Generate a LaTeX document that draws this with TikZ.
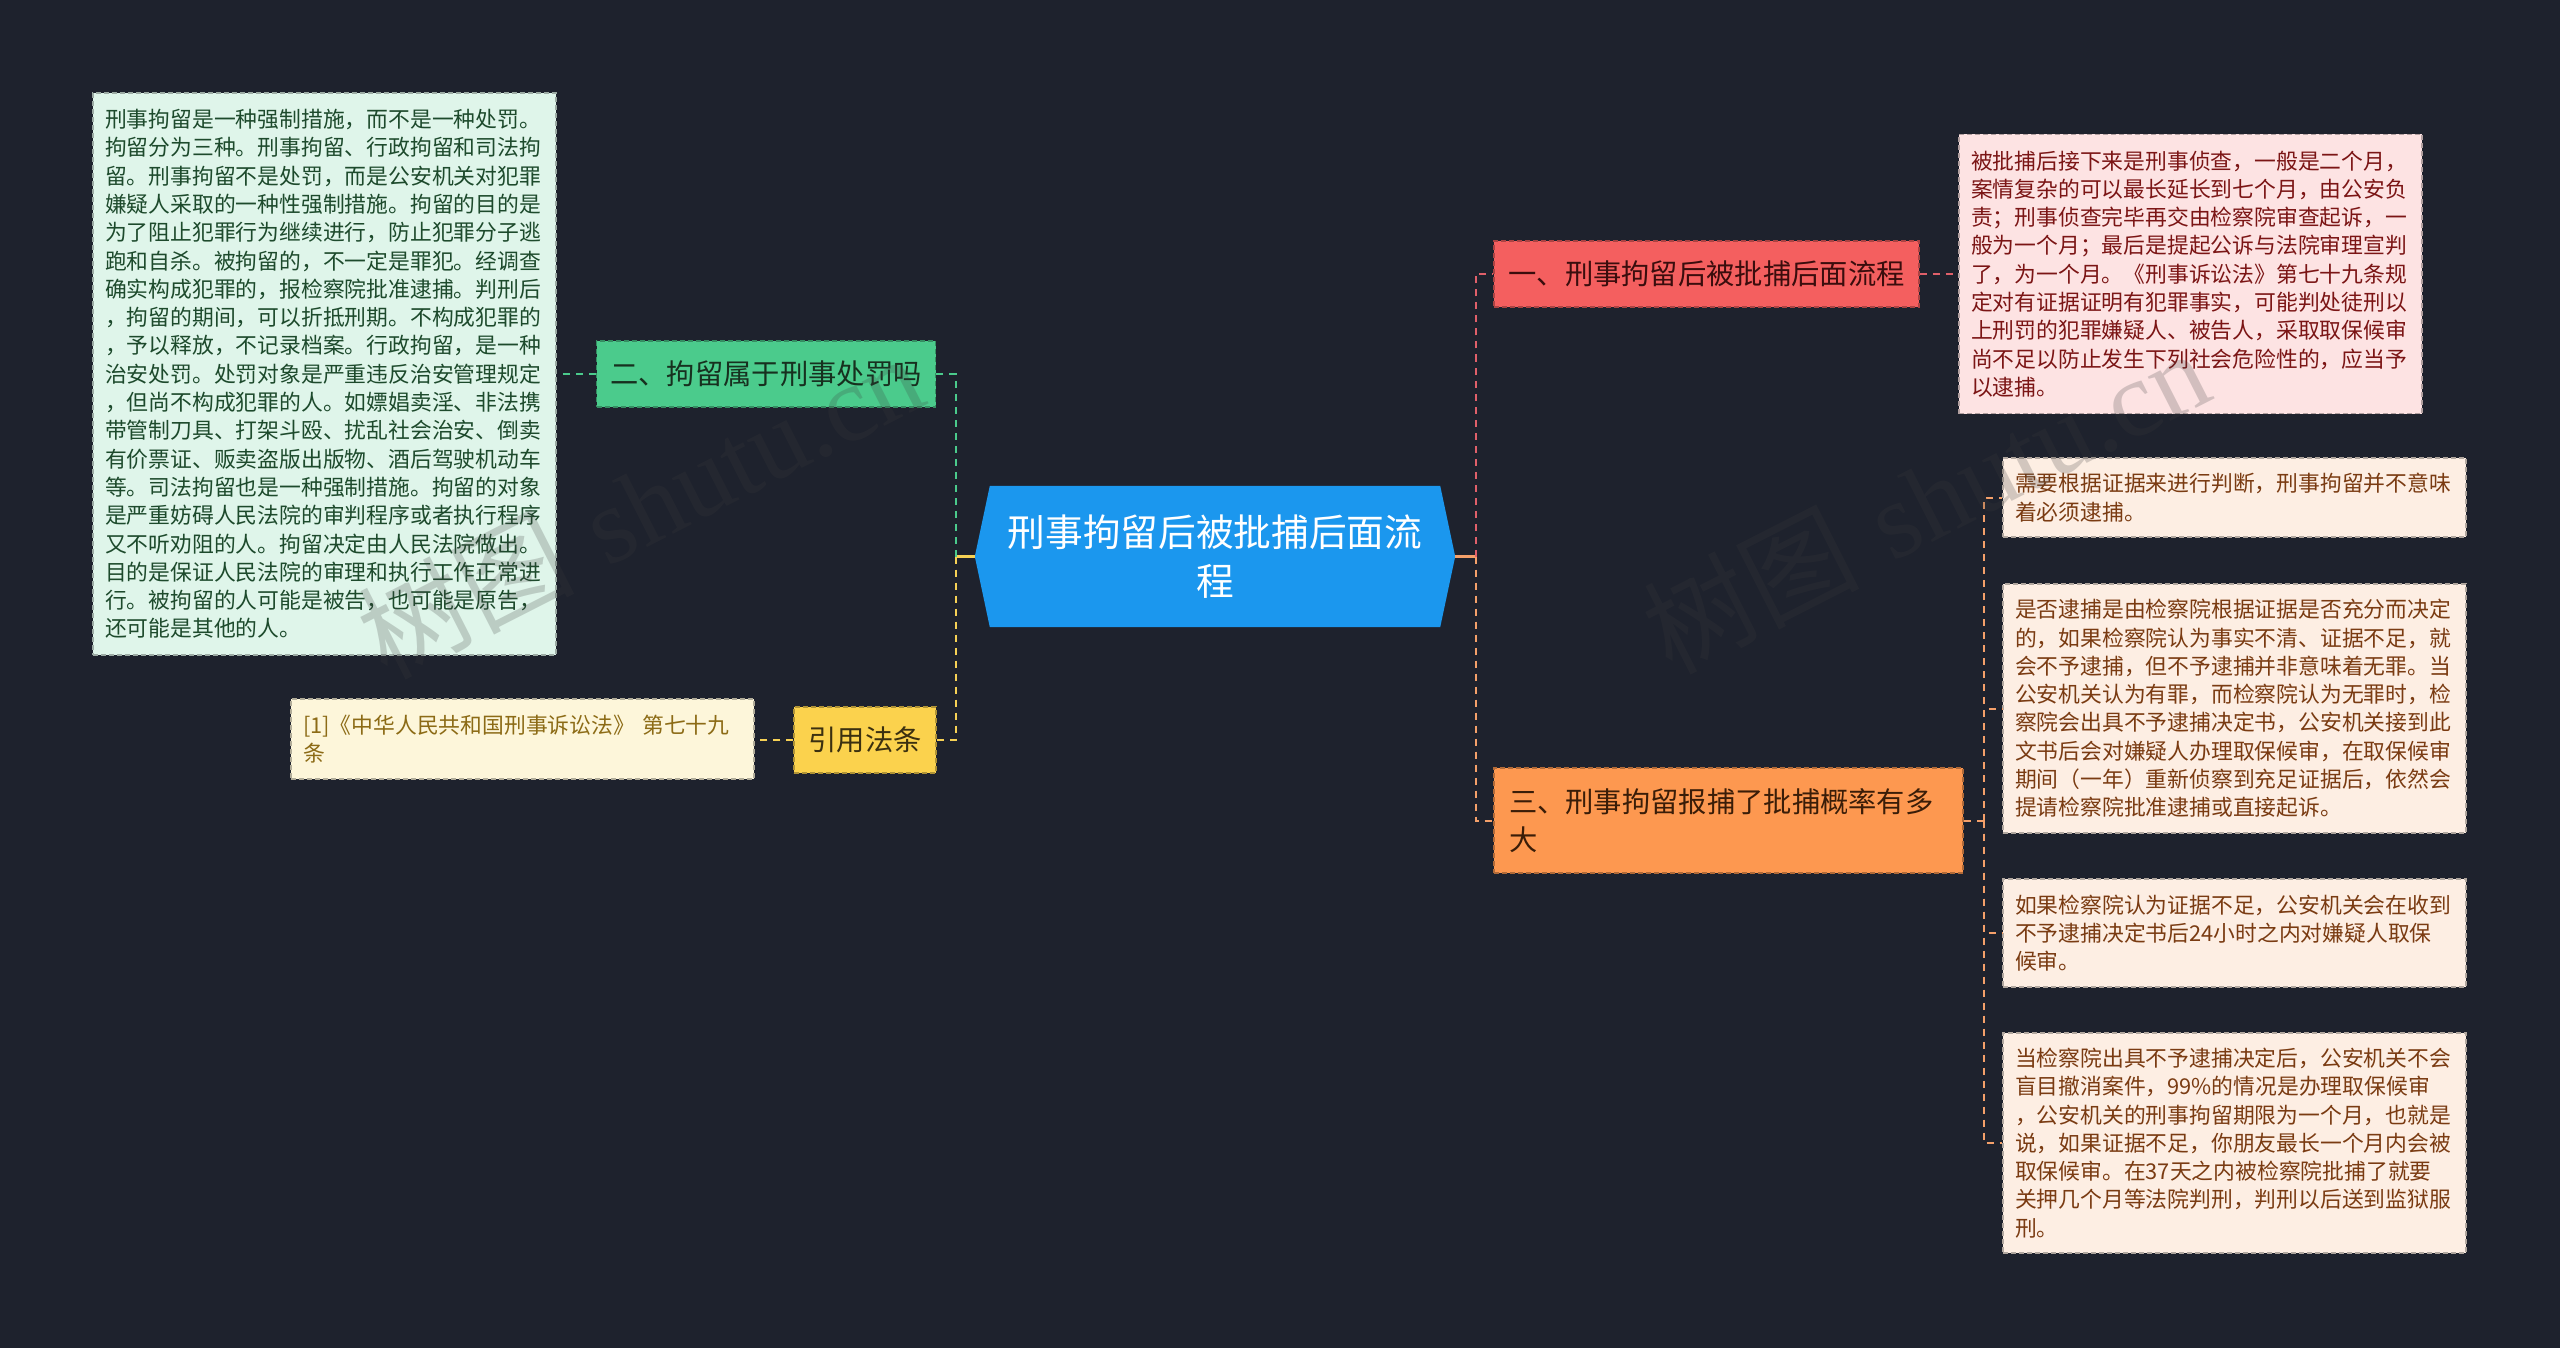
\documentclass[tikz,border=0pt]{standalone}
\usepackage{fontspec}
\newfontfamily\cjk{Noto Sans CJK SC}
\newfontfamily\wmserif{Liberation Serif}
\usetikzlibrary{backgrounds}
\definecolor{bgc}{HTML}{1E222D}
\definecolor{rootblue}{HTML}{1B97EE}
\definecolor{greenn}{HTML}{4BCB8C}
\definecolor{greent}{HTML}{17301F}
\definecolor{yellown}{HTML}{FBD24D}
\definecolor{yellowt}{HTML}{3B3010}
\definecolor{redn}{HTML}{F45F5F}
\definecolor{redt}{HTML}{3A0D0D}
\definecolor{orangen}{HTML}{FD9850}
\definecolor{oranget}{HTML}{3A1D08}
\definecolor{mintf}{HTML}{DFF5EA}
\definecolor{mintt}{HTML}{1D4A2C}
\definecolor{citef}{HTML}{FDF6DA}
\definecolor{citet}{HTML}{8C6B16}
\definecolor{pinkf}{HTML}{FDE3E3}
\definecolor{pinkt}{HTML}{7B1515}
\definecolor{peachf}{HTML}{FDEEE3}
\definecolor{peacht}{HTML}{7A3B12}
\definecolor{redl}{HTML}{E0606A}
\definecolor{orangel}{HTML}{F4A06A}
\definecolor{greenl}{HTML}{4BCB8C}
\definecolor{yellowl}{HTML}{F6D155}
\definecolor{wmc}{HTML}{3C3C3C}
\tikzset{
  small/.style={font=\cjk\fontsize{21.8}{28.3}\selectfont},
  textbox/.style={small, draw, dashed, dash pattern=on 5pt off 3pt, line width=1.5pt,
    inner xsep=12pt, inner ysep=0pt, text width=439pt, align=left, anchor=center},
  branch/.style={font=\cjk\fontsize{28.3}{38}\selectfont, draw, dashed,
    dash pattern=on 5pt off 3pt, line width=1.5pt, inner sep=0pt, anchor=center},
  dashc/.style={line width=2pt, dash pattern=on 7pt off 6pt},
  solidc/.style={line width=2.5pt},
  wm/.style={text=wmc, opacity=0.22, font=\fontsize{108}{108}\selectfont, inner sep=0pt}
}
\begin{document}
\begin{tikzpicture}[x=1pt,y=-1pt]
\useasboundingbox (0,0) rectangle (2560,1348);

% central topic
\node[font=\cjk\fontsize{37.7}{49}\selectfont, text=white, align=center,
  minimum width=480pt, minimum height=141pt, inner sep=0pt] (root) at (1215,556.5)
  {刑事拘留后被批捕后面流\\程};
\begin{scope}[on background layer]
\fill[bgc] (0,0) rectangle (2560,1348);
\fill[rootblue] (root.west) -- ([xshift=15pt]root.north west) -- ([xshift=-15pt]root.north east)
  -- (root.east) -- ([xshift=-15pt]root.south east) -- ([xshift=15pt]root.south west) -- cycle;
\end{scope}

% left branches
\node[branch, fill=greenn, draw=greenn!70!black, text=greent, minimum width=339pt, minimum height=66pt]
  (n2) at (766,374) {二、拘留属于刑事处罚吗};
\node[branch, fill=yellown, draw=yellown!70!black, text=yellowt, minimum width=142pt, minimum height=66pt]
  (ny) at (865,740) {引用法条};
\node[textbox, fill=mintf, draw=mintf!70!black, text=mintt, minimum height=562pt]
  (lt) at (324.5,374) {刑事拘留是一种强制措施，而不是一种处罚。\\
拘留分为三种。刑事拘留、行政拘留和司法拘\\
留。刑事拘留不是处罚，而是公安机关对犯罪\\
嫌疑人采取的一种性强制措施。拘留的目的是\\
为了阻止犯罪行为继续进行，防止犯罪分子逃\\
跑和自杀。被拘留的，不一定是罪犯。经调查\\
确实构成犯罪的，报检察院批准逮捕。判刑后\\
，拘留的期间，可以折抵刑期。不构成犯罪的\\
，予以释放，不记录档案。行政拘留，是一种\\
治安处罚。处罚对象是严重违反治安管理规定\\
，但尚不构成犯罪的人。如嫖娼卖淫、非法携\\
带管制刀具、打架斗殴、扰乱社会治安、倒卖\\
有价票证、贩卖盗版出版物、酒后驾驶机动车\\
等。司法拘留也是一种强制措施。拘留的对象\\
是严重妨碍人民法院的审判程序或者执行程序\\
又不听劝阻的人。拘留决定由人民法院做出。\\
目的是保证人民法院的审理和执行工作正常进\\
行。被拘留的人可能是被告，也可能是原告，\\
还可能是其他的人。};
\node[textbox, fill=citef, draw=citef!70!black, text=citet, minimum height=80pt]
  (cite) at (522.5,739) {[1]《中华人民共和国刑事诉讼法》 第七十九\\条};

% right branches
\node[branch, fill=redn, draw=redn!70!black, text=redt, minimum width=425pt, minimum height=66pt]
  (n1) at (1706.5,274) {一、刑事拘留后被批捕后面流程};
\node[branch, fill=orangen, draw=orangen!70!black, text=oranget, minimum height=105pt,
  inner xsep=15pt, text width=439pt, align=left]
  (n3) at (1728.5,820.5) {三、刑事拘留报捕了批捕概率有多\\大};
\node[textbox, fill=pinkf, draw=pinkf!70!black, text=pinkt, minimum height=279pt]
  (t1) at (2190.5,274) {被批捕后接下来是刑事侦查，一般是二个月，\\
案情复杂的可以最长延长到七个月，由公安负\\
责；刑事侦查完毕再交由检察院审查起诉，一\\
般为一个月；最后是提起公诉与法院审理宣判\\
了，为一个月。《刑事诉讼法》第七十九条规\\
定对有证据证明有犯罪事实，可能判处徒刑以\\
上刑罚的犯罪嫌疑人、被告人，采取取保候审\\
尚不足以防止发生下列社会危险性的，应当予\\
以逮捕。};
\node[textbox, fill=peachf, draw=peachf!70!black, text=peacht, minimum height=79pt]
  (c1) at (2234.5,497.5) {需要根据证据来进行判断，刑事拘留并不意味\\着必须逮捕。};
\node[textbox, fill=peachf, draw=peachf!70!black, text=peacht, minimum height=249pt]
  (c2) at (2234.5,708.5) {是否逮捕是由检察院根据证据是否充分而决定\\
的，如果检察院认为事实不清、证据不足，就\\
会不予逮捕，但不予逮捕并非意味着无罪。当\\
公安机关认为有罪，而检察院认为无罪时，检\\
察院会出具不予逮捕决定书，公安机关接到此\\
文书后会对嫌疑人办理取保候审，在取保候审\\
期间（一年）重新侦察到充足证据后，依然会\\
提请检察院批准逮捕或直接起诉。};
\node[textbox, fill=peachf, draw=peachf!70!black, text=peacht, minimum height=108pt]
  (c3) at (2234.5,933) {如果检察院认为证据不足，公安机关会在收到\\
不予逮捕决定书后24小时之内对嫌疑人取保\\
候审。};
\node[textbox, fill=peachf, draw=peachf!70!black, text=peacht, minimum height=220pt]
  (c4) at (2234.5,1143) {当检察院出具不予逮捕决定后，公安机关不会\\
盲目撤消案件，99\%的情况是办理取保候审\\
，公安机关的刑事拘留期限为一个月，也就是\\
说，如果证据不足，你朋友最长一个月内会被\\
取保候审。在37天之内被检察院批捕了就要\\
关押几个月等法院判刑，判刑以后送到监狱服\\
刑。};

% connectors
\coordinate (lj) at (955.5,556.5);
\coordinate (rj) at (1475.5,556.5);
\coordinate (oj) at (1984,820.5);
\draw[solidc, yellowl] (root.west) -- (lj);
\draw[dashc, greenl] (lj) |- (n2.east);
\draw[dashc, yellowl] (lj) |- (ny.east);
\draw[dashc, greenl] (n2.west) -- (n2.west -| lt.east);
\draw[dashc, yellowl] (ny.west) -- (ny.west -| cite.east);
\draw[solidc, orangel] (root.east) -- (rj);
\draw[dashc, redl] (rj) |- (n1.west);
\draw[dashc, orangel] (rj) |- (n3.west);
\draw[dashc, redl] (n1.east) -- (n1.east -| t1.west);
\draw[dashc, orangel] (n3.east) -- (oj);
\foreach \c in {c1,c2,c3,c4} \draw[dashc, orangel] (oj) |- (\c.west);

% watermarks
\node[wm, rotate=27] (wm1) at (640,505) {{\cjk 树图} {\wmserif shutu.cn}};
\node[wm, rotate=27] (wm2) at (1925,500) {{\cjk 树图} {\wmserif shutu.cn}};
\end{tikzpicture}
\end{document}
